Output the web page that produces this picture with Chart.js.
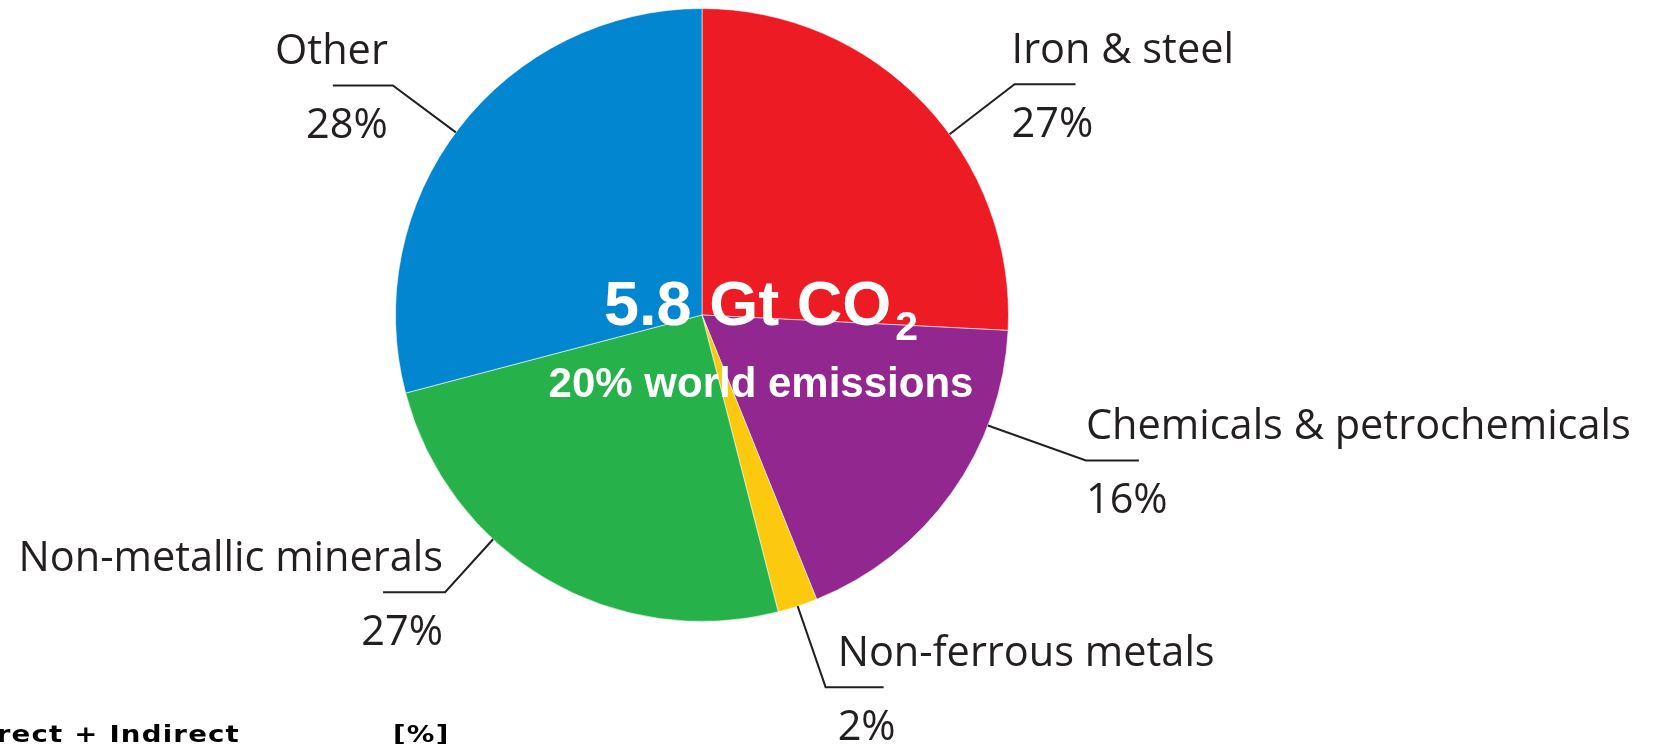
<!DOCTYPE html>
<html><head><meta charset="utf-8">
<script src="https://cdn.jsdelivr.net/npm/chart.js@4/dist/chart.umd.min.js"></script>
<style>html,body{margin:0;padding:0;background:#fff;overflow:hidden}#wrap{position:relative;width:1656px;height:744px}</style>
</head><body><div id="wrap"><canvas id="c" width="1656" height="744"></canvas></div>
<script>
// ---- data ----
const categories = ["Iron & steel", "Chemicals & petrochemicals", "Non-ferrous metals", "Non-metallic minerals", "Other"];
const sliceValues = [25.8, 18.1, 2.1, 24.9, 29.1];
const percentLabels = ["27%", "16%", "2%", "27%", "28%"];
const sliceColors = ["#ED1C24", "#92278F", "#FDC90F", "#27B14B", "#0286CF"];
const centerMain = "5.8 Gt CO";
const centerSubscript = "2";
const centerLine2 = "20% world emissions";
const footLeft = "Direct + Indirect";
const footUnit = "[%]";

// ---- label leader layout (style) ----
const leaders = [
  {frac: 0.58, dx: 65, dy: -50, len: 61, tx: -3},
  {frac: 0.28, dx: 98, dy: 35, len: 53, tx: 0},
  {frac: 0.50, dx: 28, dy: 81, len: 58, tx: 12},
  {frac: 0.64, dx: -48, dy: 53, len: -62, tx: -2},
  {frac: 0.49, dx: -63, dy: -47, len: -60, tx: -5}
];

const annot = {
  id: 'annot',
  afterDraw(chart) {
    const ctx = chart.ctx;
    const meta = chart.getDatasetMeta(0);
    ctx.save();
    meta.data.forEach((arc, i) => {
      const p = arc.getProps(['x','y','startAngle','endAngle','outerRadius'], true);
      const L = leaders[i];
      const a = p.startAngle + L.frac * (p.endAngle - p.startAngle);
      const ax = p.x + p.outerRadius * Math.cos(a);
      const ay = p.y + p.outerRadius * Math.sin(a);
      const ex = ax + L.dx, ey = ay + L.dy;
      ctx.strokeStyle = '#231F20';
      ctx.lineWidth = 2;
      ctx.beginPath();
      ctx.moveTo(ax, ay); ctx.lineTo(ex, ey); ctx.lineTo(ex + L.len, ey);
      ctx.stroke();
      ctx.fillStyle = '#231F20';
      ctx.font = '400 41.5px "Open Sans"';
      ctx.textBaseline = 'alphabetic';
      ctx.textAlign = L.len > 0 ? 'left' : 'right';
      ctx.fillText(categories[i], ex + L.tx, ey - 21);
      ctx.fillText(percentLabels[i], ex + L.tx, ey + 53);
    });
    // center text
    const c = meta.data[0];
    const cx = c.x + 59, cy = c.y;
    ctx.fillStyle = '#ffffff';
    const fMain = 'bold 63px "Liberation Sans", Arial, sans-serif';
    const fSub = 'bold 41px "Liberation Sans", Arial, sans-serif';
    ctx.font = fMain;
    const w1 = ctx.measureText(centerMain).width;
    ctx.font = fSub;
    const w2 = ctx.measureText(centerSubscript).width;
    const gap = 4;
    const sx = cx - (w1 + gap + w2) / 2;
    ctx.textAlign = 'left';
    ctx.font = fMain;
    ctx.fillText(centerMain, sx, cy + 10);
    ctx.font = fSub;
    ctx.fillText(centerSubscript, sx + w1 + gap, cy + 25);
    ctx.textAlign = 'center';
    ctx.font = 'bold 42px "Liberation Sans", Arial, sans-serif';
    ctx.fillText(centerLine2, cx, cy + 82);
    ctx.restore();

    // footer (heavy, wide)
    ctx.save();
    ctx.fillStyle = '#000';
    ctx.font = 'bold 23px "DejaVu Sans"';
    ctx.letterSpacing = '1px';
    ctx.translate(0, 742);
    ctx.scale(1.2, 1);
    ctx.textAlign = 'right';
    ctx.fillText(footLeft, 240 / 1.2, 0);
    ctx.textAlign = 'left';
    ctx.fillText(footUnit, 393 / 1.2, 0);
    ctx.restore();
  }
};

new Chart(document.getElementById('c'), {
  type: 'pie',
  data: {
    labels: categories,
    datasets: [{
      data: sliceValues,
      backgroundColor: sliceColors,
      borderColor: 'rgba(255,255,255,0.55)',
      borderWidth: 1
    }]
  },
  options: {
    responsive: false,
    animation: false,
    devicePixelRatio: 1,
    layout: {padding: {left: 395, right: 647, top: 8, bottom: 122}},
    plugins: {legend: {display: false}, tooltip: {enabled: false}}
  },
  plugins: [annot]
});
</script></body></html>
